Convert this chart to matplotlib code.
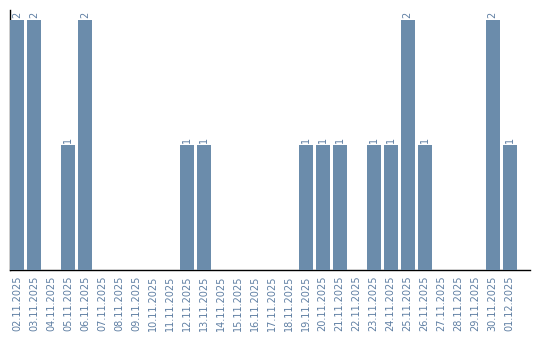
import matplotlib.pyplot as plt
import numpy as np

dates = ['02.11.2025', '03.11.2025', '04.11.2025', '05.11.2025', '06.11.2025',
         '07.11.2025', '08.11.2025', '09.11.2025', '10.11.2025', '11.11.2025',
         '12.11.2025', '13.11.2025', '14.11.2025', '15.11.2025', '16.11.2025',
         '17.11.2025', '18.11.2025', '19.11.2025', '20.11.2025', '21.11.2025',
         '22.11.2025', '23.11.2025', '24.11.2025', '25.11.2025', '26.11.2025',
         '27.11.2025', '28.11.2025', '29.11.2025', '30.11.2025', '01.12.2025']
counts = [2, 2, 0, 1, 2,
          0, 0, 0, 0, 0,
          1, 1, 0, 0, 0,
          0, 0, 1, 1, 1,
          0, 1, 1, 2, 1,
          0, 0, 0, 2, 1]

color = '#6b8cab'
label_color = '#5f7fa3'

fig = plt.figure(figsize=(5.4, 3.4), dpi=100)
ax = fig.add_axes([10/540, 70/340, 520/540, 260/340])

x = np.arange(len(dates))
bars = ax.bar(x, counts, width=0.82, color=color, zorder=3)

# value labels above non-empty bars
for xi, c in zip(x, counts):
    if c > 0:
        ax.text(xi, c + 0.02, str(c), rotation=90, ha='center', va='bottom',
                fontsize=7, color=label_color)

ax.set_xlim(-0.41, 30.2)
ax.set_ylim(0, 2.08)
ax.set_xticks(x)
ax.set_xticklabels(dates, rotation=90, fontsize=7, color=label_color)
ax.tick_params(axis='x', length=0, pad=4)
ax.set_yticks([])

for s in ['top', 'right']:
    ax.spines[s].set_visible(False)
# bars sit on top of the left spine, as in the original
ax.spines['left'].set_zorder(1)
ax.spines['left'].set_linewidth(1)
ax.spines['bottom'].set_linewidth(1)

fig.savefig('out.png', dpi=100)
